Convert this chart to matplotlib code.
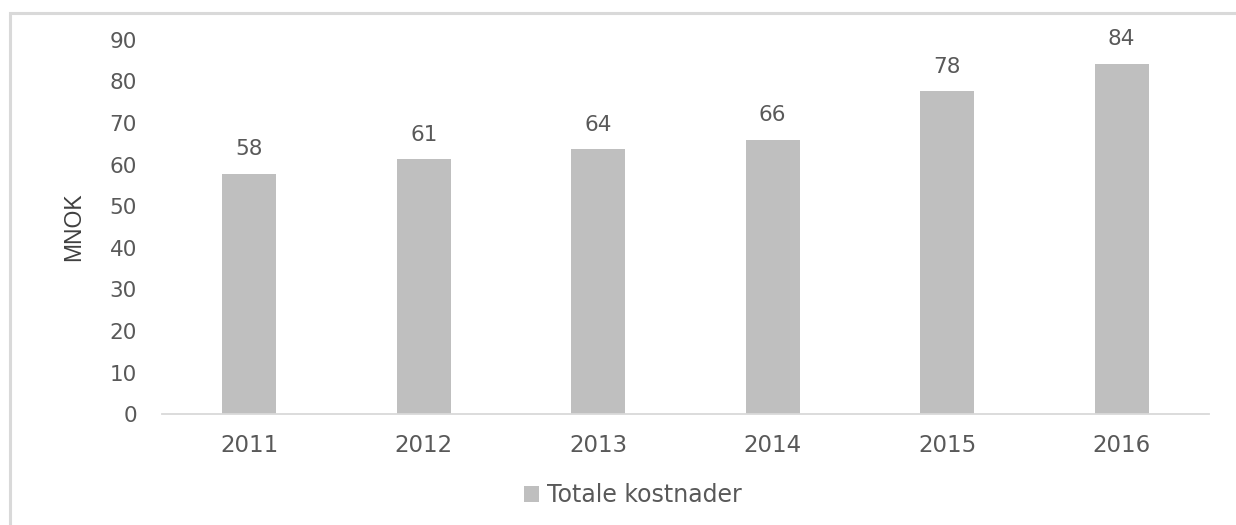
import matplotlib
matplotlib.use("Agg")
import matplotlib.pyplot as plt
from matplotlib.patches import Rectangle

years = ["2011", "2012", "2013", "2014", "2015", "2016"]
values = [57.8, 61.3, 63.8, 66.0, 77.6, 84.3]
labels = ["58", "61", "64", "66", "78", "84"]
yticks = [0, 10, 20, 30, 40, 50, 60, 70, 80, 90]
series_name = "Totale kostnader"
ylabel = "MNOK"

W, H = 1236, 525
fig = plt.figure(figsize=(W / 100, H / 100), dpi=100)
fig.patch.set_facecolor("white")

# outer light-gray frame (open at right/bottom edge of the crop)
fig.add_artist(Rectangle((10 / W, -0.05), 1.1, (H - 12.5) / H + 0.05,
                         transform=fig.transFigure, fill=False,
                         edgecolor="#D9D9D9", linewidth=2.2, zorder=0))

ax = fig.add_axes([162 / W, (H - 414.3) / H, (1209 - 162) / W, (414.3 - 39.8) / H])
x = list(range(len(years)))
ax.bar(x, values, width=0.31, color="#BFBFBF", zorder=2)
ax.set_xlim(-0.5, len(years) - 0.5)
ax.set_ylim(0, 90)
ax.set_yticks(yticks)
ax.set_yticklabels([str(t) for t in yticks], fontsize=15.5, family="DejaVu Sans", color="#595959")
ax.set_xticks(x)
ax.set_xticklabels(years, fontsize=16.5, family="DejaVu Sans", color="#595959")
ax.tick_params(axis="y", length=0, pad=18)
ax.tick_params(axis="x", length=0, pad=14)
for s in ["top", "right", "left"]:
    ax.spines[s].set_visible(False)
ax.spines["bottom"].set_color("#D9D9D9")
ax.spines["bottom"].set_linewidth(1.3)

for xi, v, lab in zip(x, values, labels):
    ax.annotate(lab, (xi, v), xytext=(0, 17.5), textcoords="offset points",
                ha="center", va="center", fontsize=15.5, family="DejaVu Sans",
                color="#595959")

fig.text(74 / W, 1 - 227 / H, ylabel, rotation=90, ha="center", va="center",
         fontsize=16.5, family="Liberation Sans", color="#404040")

handle = Rectangle((0, 0), 1, 1, facecolor="#BFBFBF", edgecolor="none")
fig.legend([handle], [series_name], loc="center", bbox_to_anchor=(633 / W, 1 - 495 / H),
           frameon=False, handlelength=0.65, handleheight=0.65, handletextpad=0.35,
           prop={"family": "DejaVu Sans", "size": 17}, labelcolor="#595959")

fig.savefig("out.png", dpi=100, facecolor="white")
